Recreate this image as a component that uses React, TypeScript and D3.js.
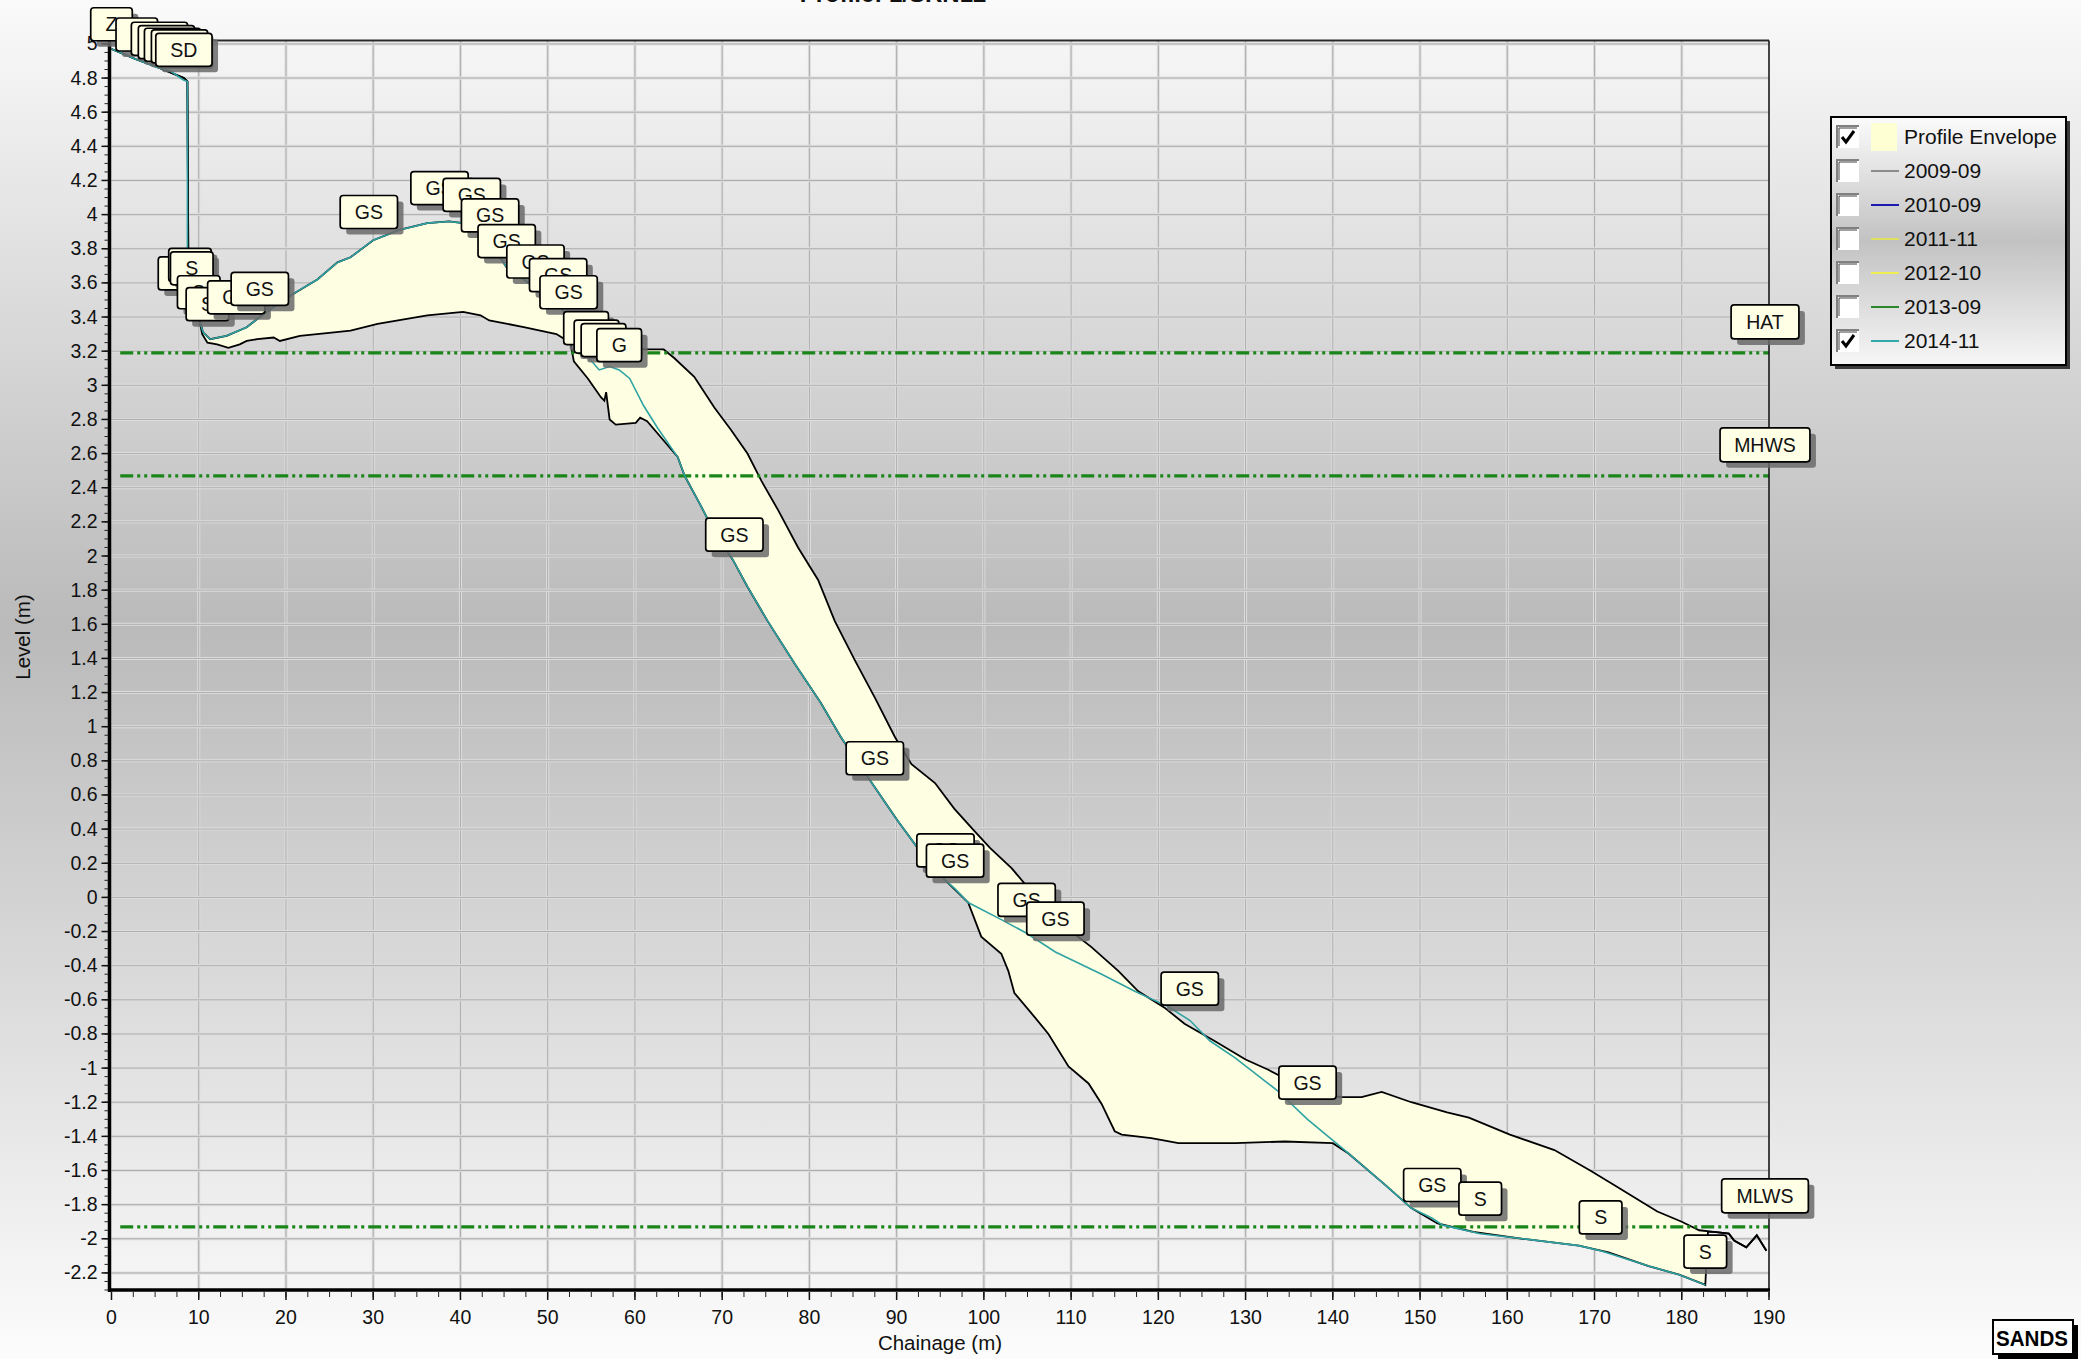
import * as d3 from "d3"

// profile data (chainage m, level m)
const chartTitle = "Profile: 1/SRN12"

const envelopeUpper: [number, number][] = [
  [0, 4.97], [2.8, 4.91], [5.5, 4.86], [8.3, 4.8], [8.7, 4.78], [8.8, 3.8], [8.9, 3.55],
  [10.0, 3.4], [10.5, 3.31], [11.3, 3.27], [13.2, 3.29], [15.5, 3.34], [17.0, 3.4],
  [19.7, 3.5], [21.3, 3.55], [23.6, 3.62], [25.9, 3.72], [27.4, 3.75], [30.0, 3.85],
  [33.0, 3.91], [36.2, 3.95], [38.7, 3.96], [40.3, 3.95], [41.5, 3.94], [43.4, 3.84],
  [45.3, 3.69], [48.6, 3.57], [51.2, 3.48], [52.4, 3.39], [55.0, 3.28], [58.0, 3.22],
  [60.0, 3.21], [63.3, 3.21], [64.5, 3.16], [66.8, 3.05], [69.1, 2.87], [71.0, 2.74],
  [72.9, 2.6], [74.5, 2.44], [76.4, 2.27], [78.7, 2.05], [81.0, 1.86], [82.9, 1.62],
  [85.2, 1.39], [87.5, 1.17], [89.8, 0.94], [91.7, 0.78], [94.4, 0.67], [96.6, 0.52],
  [98.9, 0.39], [100.7, 0.29], [103.2, 0.17], [106.0, 0.0], [108.5, -0.14], [112.3, -0.29],
  [115.4, -0.43], [117.7, -0.55], [120.8, -0.65], [123.0, -0.74], [126.4, -0.84],
  [130.0, -0.95], [132.6, -1.01], [136.0, -1.1], [140.8, -1.17], [143.3, -1.17],
  [145.6, -1.14], [149.0, -1.2], [153.1, -1.26], [155.6, -1.29], [160.3, -1.39],
  [165.4, -1.48], [169.5, -1.6], [172.1, -1.68], [177.2, -1.84], [180.0, -1.9],
  [182.0, -1.95], [183.7, -1.96], [185.4, -1.97], [186.0, -2.01], [187.4, -2.05],
  [188.6, -1.98], [189.7, -2.07],
]

const envelopeLower: [number, number][] = [
  [0, 4.97], [2.8, 4.91], [5.5, 4.86], [8.3, 4.8], [8.7, 4.78], [8.8, 3.8], [8.9, 3.55],
  [10.0, 3.4], [10.4, 3.3], [11.0, 3.25], [12.1, 3.24], [13.4, 3.22], [14.7, 3.24],
  [15.5, 3.26], [16.7, 3.27], [18.6, 3.28], [19.3, 3.26], [21.6, 3.29], [25.5, 3.31],
  [27.4, 3.32], [30.5, 3.36], [36.2, 3.41], [40.3, 3.43], [42.3, 3.41], [43.3, 3.38],
  [47.4, 3.34], [51.0, 3.3], [52.6, 3.25], [53.0, 3.14], [54.6, 3.04], [56.1, 2.93],
  [56.5, 2.91], [56.7, 2.96], [57.1, 2.8], [57.8, 2.77], [60.1, 2.78], [60.6, 2.81],
  [61.4, 2.79], [62.9, 2.7], [64.9, 2.58], [65.7, 2.47], [67.5, 2.3], [69.0, 2.15],
  [71.2, 1.98], [72.9, 1.82], [75.2, 1.62], [78.3, 1.37], [81.3, 1.14], [83.6, 0.94],
  [87.3, 0.66], [90.1, 0.45], [92.4, 0.29], [95.6, 0.1], [98.2, -0.03], [99.7, -0.23],
  [102.0, -0.33], [102.8, -0.43], [103.5, -0.56], [105.8, -0.7], [107.4, -0.8],
  [109.7, -0.99], [112.0, -1.09], [113.5, -1.21], [115.0, -1.37], [115.8, -1.39],
  [119.2, -1.41], [122.3, -1.44], [128.8, -1.44], [134.5, -1.43], [140.0, -1.44],
  [141.8, -1.5], [145.9, -1.68], [149.0, -1.82], [152.0, -1.91], [156.1, -1.96],
  [161.8, -2.0], [168.2, -2.04], [171.6, -2.08], [176.2, -2.16], [179.7, -2.21],
  [182.2, -2.26], [182.7, -2.27], [183.0, -1.96], [183.7, -1.96], [185.4, -1.97],
  [186.0, -2.01], [187.4, -2.05], [188.6, -1.98], [189.7, -2.07],
]

const profile201411: [number, number][] = [
  [0, 4.97], [2.8, 4.91], [5.3, 4.86], [6.8, 4.84], [8.2, 4.79], [8.7, 4.78], [8.7, 3.81],
  [8.8, 3.55], [9.0, 3.53], [10.0, 3.39], [10.5, 3.31], [11.3, 3.27], [13.2, 3.29],
  [15.5, 3.34], [17.0, 3.4], [19.7, 3.5], [21.3, 3.55], [23.6, 3.62], [25.9, 3.72],
  [27.4, 3.75], [30.0, 3.85], [33.0, 3.91], [36.2, 3.95], [38.7, 3.96], [40.3, 3.95],
  [41.5, 3.94], [43.4, 3.84], [45.3, 3.69], [48.6, 3.57], [51.2, 3.48], [52.4, 3.39],
  [54.4, 3.18], [55.9, 3.09], [57.1, 3.11], [58.2, 3.09], [59.4, 3.04], [61.0, 2.88],
  [62.6, 2.75], [64.9, 2.58], [65.7, 2.47], [67.5, 2.3], [69.0, 2.15], [71.2, 1.98],
  [72.9, 1.82], [75.2, 1.62], [78.3, 1.37], [81.3, 1.14], [83.6, 0.94], [87.3, 0.66],
  [90.1, 0.45], [92.4, 0.29], [95.6, 0.1], [96.7, 0.05], [98.2, -0.03], [102.0, -0.13],
  [104.9, -0.21], [108.2, -0.32], [113.5, -0.45], [117.3, -0.55], [121.1, -0.64],
  [123.6, -0.72], [125.9, -0.84], [128.8, -0.94], [133.6, -1.13], [137.1, -1.3],
  [141.8, -1.5], [145.9, -1.68], [149.0, -1.82], [151.4, -1.88], [152.6, -1.92],
  [156.9, -1.97], [161.8, -2.0], [168.2, -2.04], [170.7, -2.07], [176.2, -2.16],
  [179.7, -2.21], [182.7, -2.27],
]

// sediment code annotations on the 2014-11 points
const sedimentCodes: [number, number, string][] = [
  [0, 4.96, "Z"], [2.9, 4.9, "Z"], [5.5, 4.875, "SD"], [6.3, 4.855, "SD"], [7.0, 4.84, "SD"],
  [7.8, 4.83, "SD"], [8.3, 4.81, "SD"],
  [7.8, 3.5, "S"], [9.0, 3.55, "S"], [9.2, 3.53, "S"], [10.0, 3.39, "S"], [11.0, 3.32, "S"],
  [14.3, 3.36, "GS"], [17.0, 3.41, "GS"],
  [29.5, 3.86, "GS"], [37.6, 4.0, "GS"], [41.3, 3.96, "GS"], [43.4, 3.84, "GS"],
  [45.3, 3.69, "GS"], [48.6, 3.57, "GS"], [51.2, 3.49, "GS"], [52.4, 3.39, "GS"],
  [54.4, 3.18, "G"], [55.6, 3.13, "G"], [56.4, 3.11, "G"], [58.2, 3.08, "G"],
  [71.4, 1.97, "GS"], [87.5, 0.66, "GS"], [95.6, 0.12, "GS"], [96.7, 0.06, "GS"],
  [104.9, -0.17, "GS"], [108.2, -0.28, "GS"], [123.6, -0.69, "GS"], [137.1, -1.24, "GS"],
  [151.4, -1.84, "GS"], [156.9, -1.92, "S"], [170.7, -2.03, "S"], [182.7, -2.23, "S"],
]

const tideNames = ["HAT", "MHWS", "MLWS"]
const tideLevels = [3.19, 2.47, -1.93]

const legendLabels = ["Profile Envelope", "2009-09", "2010-09", "2011-11", "2012-10", "2013-09", "2014-11"]
const legendColors = ["#ffffd4", "#8c8c8c", "#1c1cb0", "#e0e060", "#eeee50", "#2a8a2a", "#2fa9a9"]
const legendChecked = [true, false, false, false, false, false, true]

const W = 2081
const H = 1359
const FONT = "'Liberation Sans', Arial, sans-serif"

// rough glyph widths at 18px, for sizing the label boxes
const glyphW: Record<string, number> = {G: 14, S: 12, Z: 11, D: 13, H: 13, A: 12, T: 11, M: 15, W: 17, L: 10}
const boxW = (s: string) => 30 + 1.05 * s.split("").reduce((a, ch) => a + (glyphW[ch] ?? 12), 0)

export default function App() {
  const x = d3.scaleLinear().domain([0, 190]).range([111.5, 1769])
  const y = d3.scaleLinear().domain([-2.3, 5.02]).range([1290, 40.5])
  const line = d3
    .line<[number, number]>()
    .x((d) => x(d[0]))
    .y((d) => y(d[1]))

  const envelopePath = line([...envelopeUpper, ...envelopeLower.slice().reverse()]) + "Z"

  const xGrid = d3.range(1, 19).map((i) => i * 10)
  const yGrid = d3.range(-11, 26).map((i) => i * 0.2)
  const xTicks = d3.range(0, 20).map((i) => i * 10)
  const xMinor = d3.range(0, 77).map((i) => i * 2.5)
  const yTicks = d3.range(-11, 26).map((i) => +(i * 0.2).toFixed(1))
  const yMinor = d3.range(-46, 101).map((i) => i * 0.05)

  const [x0, x1] = x.range()
  const [yb, yt] = y.range()

  const boxH = 33

  return (
    <svg width={W} height={H} style={{position: "absolute", left: 0, top: 0}} fontFamily={FONT}>
      <defs>
        <linearGradient id="bg" x1="0" y1="0" x2="0" y2="1">
          <stop offset="0" stopColor="#fafafa" />
          <stop offset="0.46" stopColor="#bababa" />
          <stop offset="1" stopColor="#fcfcfc" />
        </linearGradient>
        <linearGradient id="lg" x1="0" y1="0" x2="0" y2="1">
          <stop offset="0" stopColor="#fbfbfb" />
          <stop offset="0.5" stopColor="#c2c2c2" />
          <stop offset="1" stopColor="#f6f6f6" />
        </linearGradient>
      </defs>
      <rect x={0} y={0} width={W} height={H} fill="url(#bg)" />

      {/* title, mostly cut off at the top */}
      <text x={893} y={2} textAnchor="middle" fontSize={24} fontWeight="bold" fill="#111">
        {chartTitle}
      </text>

      {/* grid */}
      <g>
        {xGrid.map((v) => (
          <g key={"gx" + v}>
            <line x1={x(v)} x2={x(v)} y1={yt} y2={yb} stroke="#dedede" strokeWidth={3} />
            <line x1={x(v)} x2={x(v)} y1={yt} y2={yb} stroke="#adadad" strokeWidth={1} />
          </g>
        ))}
        {yGrid.map((v) => (
          <g key={"gy" + v}>
            <line x1={x0} x2={x1} y1={y(v)} y2={y(v)} stroke="#dedede" strokeWidth={3} />
            <line x1={x0} x2={x1} y1={y(v)} y2={y(v)} stroke="#adadad" strokeWidth={1} />
          </g>
        ))}
      </g>

      {/* envelope */}
      <path d={envelopePath} fill="#fefee2" stroke="none" />
      <path d={line(envelopeUpper)!} fill="none" stroke="#000" strokeWidth={1.8} />
      <path d={line(envelopeLower)!} fill="none" stroke="#000" strokeWidth={1.8} />

      {/* tide levels */}
      {tideLevels.map((lv, i) => (
        <line
          key={tideNames[i]}
          x1={x(1)}
          x2={x(190)}
          y1={y(lv)}
          y2={y(lv)}
          stroke="#1a861a"
          strokeWidth={3.2}
          strokeDasharray="13 4 3 4 3 4"
        />
      ))}

      {/* 2014-11 profile */}
      <path d={line(profile201411)!} fill="none" stroke="#2fa3a3" strokeWidth={1.6} />

      {/* frame and axes */}
      <line x1={x0} x2={x1} y1={yt} y2={yt} stroke="#2a2a2a" strokeWidth={2} />
      <line x1={x1} x2={x1} y1={yt} y2={yb} stroke="#1a1a1a" strokeWidth={1.6} />
      <line x1={x0 - 2} x2={x0 - 2} y1={yt} y2={yb + 2} stroke="#000" strokeWidth={3.5} />
      <line x1={x0 - 3} x2={x1 + 1} y1={yb} y2={yb} stroke="#000" strokeWidth={3.5} />
      {yMinor.map((v, i) => (
        <line key={"ym" + i} x1={x0 - 7} x2={x0 - 3} y1={y(v)} y2={y(v)} stroke="#222" strokeWidth={1} />
      ))}
      {yTicks.map((v) => (
        <g key={"yt" + v}>
          <line x1={x0 - 10} x2={x0 - 3} y1={y(v)} y2={y(v)} stroke="#111" strokeWidth={1.5} />
          <text x={x0 - 14} y={y(v) + 6.5} textAnchor="end" fontSize={19.5} fill="#111">
            {String(v)}
          </text>
        </g>
      ))}
      {xMinor.map((v, i) => (
        <line key={"xm" + i} x1={x(v)} x2={x(v)} y1={yb + 2} y2={yb + 7} stroke="#222" strokeWidth={1} />
      ))}
      {xTicks.map((v) => (
        <g key={"xt" + v}>
          <line x1={x(v)} x2={x(v)} y1={yb + 2} y2={yb + 10} stroke="#111" strokeWidth={1.5} />
          <text x={x(v)} y={yb + 34} textAnchor="middle" fontSize={19.5} fill="#111">
            {String(v)}
          </text>
        </g>
      ))}
      <text x={940} y={1350} textAnchor="middle" fontSize={20.5} fill="#111">
        Chainage (m)
      </text>
      <text transform="translate(30,637) rotate(-90)" textAnchor="middle" fontSize={20.5} fill="#111">
        Level (m)
      </text>

      {/* sediment code labels */}
      {sedimentCodes.map(([c, lv, code], i) => {
        const w = boxW(code)
        const bx = x(c) - w / 2
        const by = y(lv) - 10 - boxH
        return (
          <g key={"sc" + i}>
            <rect x={bx + 6} y={by + 6} width={w} height={boxH} rx={3} fill="#6a6a6a" opacity={0.85} />
            <rect x={bx} y={by} width={w} height={boxH} rx={3} fill="#ffffe6" stroke="#000" strokeWidth={1.7} />
            <text x={bx + w / 2} y={by + boxH / 2 + 7} textAnchor="middle" fontSize={19.5} fill="#111">
              {code}
            </text>
          </g>
        )
      })}

      {/* tide level labels */}
      {tideNames.map((name, i) => {
        const w = boxW(name)
        const bx = x(190) - 4 - w / 2
        const by = y(tideLevels[i]) - 14 - 34
        return (
          <g key={"tl" + name}>
            <rect x={bx + 6} y={by + 6} width={w} height={34} rx={3} fill="#6a6a6a" opacity={0.85} />
            <rect x={bx} y={by} width={w} height={34} rx={3} fill="#ffffe6" stroke="#000" strokeWidth={1.7} />
            <text x={bx + w / 2} y={by + 24} textAnchor="middle" fontSize={19.5} fill="#111">
              {name}
            </text>
          </g>
        )
      })}

      {/* legend */}
      <g transform="translate(1831,117)">
        <rect x={4} y={4} width={235} height={248} fill="#3a3a3a" />
        <rect x={0} y={0} width={235} height={248} fill="url(#lg)" stroke="#000" strokeWidth={2} />
        {legendLabels.map((lab, i) => {
          const cy = 20 + i * 34
          return (
            <g key={"lg" + lab}>
              <rect x={6} y={cy - 11} width={22} height={22} fill="#fff" />
              <path d={`M6,${cy + 11} V${cy - 11} H28`} fill="none" stroke="#808080" strokeWidth={2} />
              <path d={`M8,${cy + 9} V${cy - 9} H26`} fill="none" stroke="#404040" strokeWidth={1} />
              {legendChecked[i] && (
                <path
                  d={`M11,${cy} L15,${cy + 5} L23,${cy - 6}`}
                  fill="none"
                  stroke="#000"
                  strokeWidth={3}
                />
              )}
              {i === 0 ? (
                <rect x={40} y={cy - 14} width={26} height={28} fill={legendColors[i]} />
              ) : (
                <line x1={40} x2={68} y1={cy} y2={cy} stroke={legendColors[i]} strokeWidth={2} />
              )}
              <text x={73} y={cy + 7} fontSize={21} fill="#111">
                {lab}
              </text>
            </g>
          )
        })}
      </g>

      {/* SANDS badge */}
      <g transform="translate(1993,1320)">
        <rect x={5} y={5} width={80} height={34} fill="#000" />
        <rect x={0} y={0} width={80} height={34} fill="#fff" stroke="#000" strokeWidth={2} />
        <text
          x={3}
          y={26}
          fontSize={22}
          fontWeight="bold"
          fill="#000"
          textLength={72}
          lengthAdjust="spacingAndGlyphs"
        >
          SANDS
        </text>
      </g>
    </svg>
  )
}
